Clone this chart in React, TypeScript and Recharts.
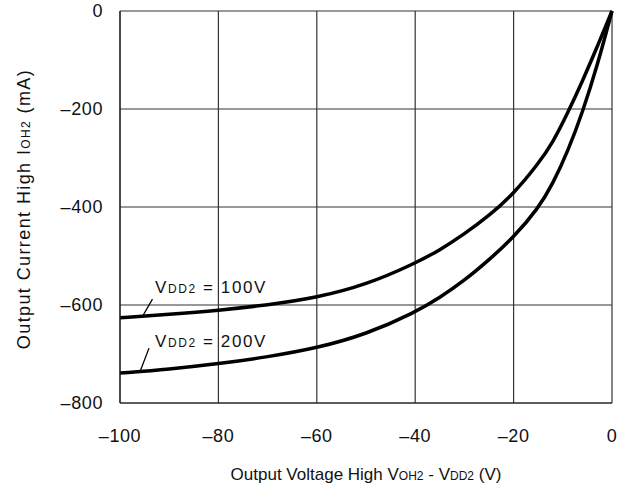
import React from 'react';
import { LineChart, Line, XAxis, YAxis, CartesianGrid, ReferenceLine, ReferenceDot } from 'recharts';

const voltages = [-100, -90, -80, -70, -60, -50, -40, -35, -30, -25, -20, -15, -12, -9, -6, -3, 0];
const current100V = [-626, -619, -611, -600, -585, -559, -515, -488, -455, -418, -373, -312, -268, -208, -143, -73, 0];
const current200V = [-739, -731, -720, -706, -688, -660, -615, -585, -550, -508, -462, -403, -352, -287, -207, -112, 0];
const xTicks = [-100, -80, -60, -40, -20, 0];
const yTicks = [-800, -600, -400, -200, 0];

const data = voltages.map((v, i) => ({ v, a: current100V[i], b: current200V[i] }));

const FONT = '"Liberation Sans", Arial, Helvetica, sans-serif';
const fmt = (n: number) => (n < 0 ? '\u2013' + Math.abs(n) : String(n));

const TagText = (main: string, sub: string, rest: string) => (props: any) => (
  <text x={props.cx} y={props.cy} fontFamily={FONT} fontSize={17} letterSpacing={1.6} fill="#111">
    {main}
    <tspan fontSize={12}>{sub}</tspan>
    {rest}
  </text>
);

export default function App() {
  return (
    <div style={{ position: 'absolute', left: 0, top: 0, background: '#fff' }}>
      <LineChart width={632} height={496} data={data} margin={{ top: 11, right: 20, bottom: 0, left: 0 }}>
        <CartesianGrid stroke="#333" strokeWidth={1.2} horizontalValues={yTicks} verticalValues={xTicks} />
        <XAxis
          type="number"
          dataKey="v"
          domain={[-100, 0]}
          ticks={xTicks}
          tickFormatter={fmt}
          height={93}
          axisLine={{ stroke: '#222', strokeWidth: 1.2 }}
          tickLine={false}
          tickMargin={20}
          tick={{ fontFamily: FONT, fontSize: 18, fill: '#111', letterSpacing: 0.6 }}
          label={{
            content: (p: any) => {
              const vb = p.viewBox;
              return (
                <text x={vb.x + vb.width / 2} y={vb.y + 77} textAnchor="middle" fontFamily={FONT} fontSize={17} fill="#111">
                  Output Voltage High V<tspan fontSize={12}>OH2</tspan> - V<tspan fontSize={12}>DD2</tspan> (V)
                </text>
              );
            },
          }}
        />
        <YAxis
          type="number"
          domain={[-800, 0]}
          ticks={yTicks}
          tickFormatter={fmt}
          width={120}
          axisLine={{ stroke: '#222', strokeWidth: 1.2 }}
          tickLine={false}
          tickMargin={11}
          tick={{ fontFamily: FONT, fontSize: 18, fill: '#111', letterSpacing: 0.6 }}
          label={{
            content: (p: any) => {
              const vb = p.viewBox;
              const cx = vb.x + 30;
              const cy = vb.y + vb.height / 2 + 2;
              return (
                <text x={cx} y={cy} transform={`rotate(-90 ${cx} ${cy})`} textAnchor="middle" fontFamily={FONT} fontSize={18} letterSpacing={1.4} fill="#111">
                  Output Current High I<tspan fontSize={12}>OH2</tspan> (mA)
                </text>
              );
            },
          }}
        />
        <Line type="basis" dataKey="a" stroke="#000" strokeWidth={3.5} dot={false} isAnimationActive={false} />
        <Line type="basis" dataKey="b" stroke="#000" strokeWidth={3.5} dot={false} isAnimationActive={false} />
        <ReferenceLine segment={[{ x: -95.3, y: -621 }, { x: -93.4, y: -588 }]} stroke="#000" strokeWidth={1.3} ifOverflow="visible" />
        <ReferenceLine segment={[{ x: -95.9, y: -735 }, { x: -94.1, y: -688 }]} stroke="#000" strokeWidth={1.3} ifOverflow="visible" />
        <ReferenceDot x={-92.9} y={-576} r={0} ifOverflow="visible" shape={TagText('V', 'DD2', ' = 100V')} />
        <ReferenceDot x={-92.9} y={-686} r={0} ifOverflow="visible" shape={TagText('V', 'DD2', ' = 200V')} />
      </LineChart>
    </div>
  );
}
